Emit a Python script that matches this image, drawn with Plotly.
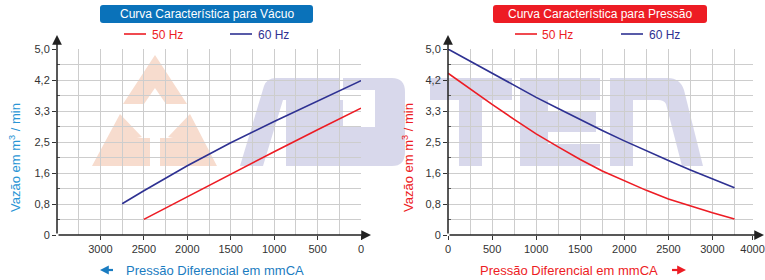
import plotly.graph_objects as go

# ---------------- data ----------------
vac_p_60 = [2750, 2500, 2000, 1500, 1000, 500, 0]
vac_q_60 = [0.84, 1.19, 1.86, 2.48, 3.05, 3.60, 4.15]
vac_p_50 = [2500, 2000, 1500, 1000, 500, 0]
vac_q_50 = [0.42, 1.03, 1.64, 2.24, 2.83, 3.41]

pre_p = [0, 250, 500, 750, 1000, 1250, 1500, 1750, 2000, 2250, 2500, 2750, 3000, 3250]
pre_q_60 = [5.0, 4.67, 4.34, 4.02, 3.70, 3.40, 3.10, 2.81, 2.53, 2.26, 2.00, 1.75, 1.51, 1.27]
pre_q_50 = [4.35, 3.92, 3.51, 3.11, 2.72, 2.37, 2.03, 1.72, 1.45, 1.20, 0.97, 0.78, 0.60, 0.43]

y_tickvals = [0, 5/6, 10/6, 15/6, 20/6, 25/6, 5]
y_ticktext = ["0", "0,8", "1,6", "2,5", "3,3", "4,2", "5,0"]
y_minor = [k * 5/12 for k in range(1, 12, 2)]

vac_tickvals = [0, 500, 1000, 1500, 2000, 2500, 3000]
vac_ticktext = ["0", "500", "1000", "1500", "2000", "2500", "3000"]
pre_tickvals = [0, 500, 1000, 1500, 2000, 2500, 3000, 3455]
pre_ticktext = ["0", "500", "1000", "1500", "2000", "2500", "3000", "4000"]
x_minor = list(range(250, 3500, 500))

RED = "#ED1C24"
NAVY = "#2E3192"
BLUE_BOX = "#0A72BA"
W, H = 765, 280
FONT = "Liberation Sans, Arial, sans-serif"

def px(x):
    return x / W

def py(y):
    return 1 - y / H

fig = go.Figure()
fig.add_trace(go.Scatter(x=vac_p_60, y=vac_q_60, mode="lines", name="60 Hz",
                         line=dict(color=NAVY, width=1.6), xaxis="x", yaxis="y", showlegend=False))
fig.add_trace(go.Scatter(x=vac_p_50, y=vac_q_50, mode="lines", name="50 Hz",
                         line=dict(color=RED, width=1.6), xaxis="x", yaxis="y", showlegend=False))
fig.add_trace(go.Scatter(x=pre_p, y=pre_q_60, mode="lines", name="60 Hz",
                         line=dict(color=NAVY, width=1.6), xaxis="x2", yaxis="y2", showlegend=False))
fig.add_trace(go.Scatter(x=pre_p, y=pre_q_50, mode="lines", name="50 Hz",
                         line=dict(color=RED, width=1.6), xaxis="x2", yaxis="y2", showlegend=False))

GRID = "#cdcdcd"
common_x = dict(ticks="outside", ticklen=4, tickwidth=1.2, tickcolor="#333", automargin=False,
                showgrid=True, gridcolor=GRID, gridwidth=1.2, zeroline=False,
                showline=False, tickfont=dict(size=11, color="#333", family=FONT),
                tickmode="array",
                minor=dict(tickmode="array", tickvals=x_minor, showgrid=True, gridcolor=GRID, gridwidth=1.2, ticks=""))
common_y = dict(range=[0, 5], tickmode="array", tickvals=y_tickvals, ticktext=y_ticktext, automargin=False,
                ticks="outside", ticklen=4, tickwidth=1.2, tickcolor="#333",
                showgrid=True, gridcolor=GRID, gridwidth=1.2, zeroline=False, showline=False,
                tickfont=dict(size=11, color="#333", family=FONT),
                minor=dict(tickmode="array", tickvals=y_minor, showgrid=True, gridcolor=GRID, gridwidth=1.2,
                           ticks="inside", ticklen=3, tickcolor="#555"))

ydom = [py(235), py(49)]
fig.update_layout(
    width=W, height=H, margin=dict(l=0, r=0, t=0, b=0, autoexpand=False),
    paper_bgcolor="white", plot_bgcolor="rgba(0,0,0,0)",
    font=dict(family=FONT, color="#333"),
    xaxis=dict(domain=[px(57), px(361)], range=[3500, 0], tickvals=vac_tickvals, ticktext=vac_ticktext,
               anchor="y", **common_x),
    yaxis=dict(domain=ydom, anchor="x", **common_y),
    xaxis2=dict(domain=[px(448), px(753)], range=[0, 3460], tickvals=pre_tickvals, ticktext=pre_ticktext,
                anchor="y2", **common_x),
    yaxis2=dict(domain=ydom, anchor="x2", **common_y),
)

# ---------------- watermark (decorative) ----------------
def path(cmds):
    out = []
    for c in cmds:
        if isinstance(c, str):
            out.append(c)
        else:
            out.append(f"{px(c[0]):.5f},{py(c[1]):.5f}")
    return " ".join(out)

ORANGE_WM = "rgba(246,214,198,0.85)"
LAV_WM = "rgba(214,214,234,0.95)"
wm = [
    (ORANGE_WM, ["M", (155, 55), "L", (187, 104), "L", (166, 104), "L", (155, 88), "L", (144, 104), "L", (123, 104), "Z"]),
    (ORANGE_WM, ["M", (92, 166), "L", (120, 114), "L", (142, 137), "L", (137, 138), "L", (150, 138), "L", (150, 166), "Z"]),
    (ORANGE_WM, ["M", (160, 166), "L", (160, 138), "L", (173, 138), "L", (168, 137), "L", (190, 114), "L", (217, 166), "Z"]),
    (LAV_WM, ["M", (240, 166), "L", (264, 86), "Q", (267, 78), (276, 78), "L", (340, 78), "L", (340, 100),
              "L", (283, 100), "L", (263, 166), "Z"]),
    (LAV_WM, ["M", (286, 100), "L", (343, 100), "L", (343, 127), "L", (375, 127), "L", (375, 166), "L", (286, 166), "Z"]),
    (LAV_WM, ["M", (343, 78), "L", (392, 78), "Q", (405, 78), (405, 92), "L", (405, 152), "Q", (405, 166), (392, 166),
              "L", (375, 166), "L", (375, 90), "L", (343, 90), "Z"]),
    (LAV_WM, ["M", (430, 78), "L", (512, 78), "L", (512, 100), "L", (482, 100), "L", (482, 166), "L", (459, 166),
              "L", (459, 100), "L", (430, 100), "Z"]),
    (LAV_WM, ["M", (520, 78), "L", (600, 78), "L", (600, 100), "L", (548, 100), "L", (548, 112), "L", (596, 112),
              "L", (596, 132), "L", (548, 132), "L", (548, 144), "L", (600, 144), "L", (600, 166), "L", (520, 166), "Z"]),
    (LAV_WM, ["M", (610, 166), "L", (610, 78), "L", (668, 78), "Q", (680, 78), (684, 90), "L", (703, 166),
              "L", (682, 166), "L", (666, 104), "Q", (664, 100), (658, 100), "L", (633, 100), "L", (633, 166), "Z"]),
]
shapes = []
for col, cmds in wm:
    shapes.append(dict(type="path", xref="paper", yref="paper", path=path(cmds),
                       fillcolor=col, line=dict(width=0), layer="below"))

# title boxes
def rbox(x0, y0, x1, y1, r, color):
    return dict(type="path", xref="paper", yref="paper", fillcolor=color, line=dict(width=0), layer="above",
                path=path(["M", (x0 + r, y0), "L", (x1 - r, y0), "Q", (x1, y0), (x1, y0 + r), "L", (x1, y1 - r),
                           "Q", (x1, y1), (x1 - r, y1), "L", (x0 + r, y1), "Q", (x0, y1), (x0, y1 - r),
                           "L", (x0, y0 + r), "Q", (x0, y0), (x0 + r, y0), "Z"]))

shapes.append(rbox(100, 5, 313, 23, 3, BLUE_BOX))
shapes.append(rbox(493, 5, 707, 23, 3, RED))

# legend lines
for (x0, x1, col) in [(124, 146, RED), (230, 252, NAVY), (515, 537, RED), (621, 643, NAVY)]:
    shapes.append(dict(type="line", xref="paper", yref="paper", x0=px(x0), x1=px(x1), y0=py(34), y1=py(34),
                       line=dict(color=col, width=1.6)))

# short arrow shafts next to the x titles
shapes.append(dict(type="line", xref="paper", yref="paper", x0=px(104), x1=px(113), y0=py(270), y1=py(270),
                   line=dict(color="#1A7CC1", width=2.2)))
shapes.append(dict(type="line", xref="paper", yref="paper", x0=px(672), x1=px(682), y0=py(270), y1=py(270),
                   line=dict(color=RED, width=2.2)))

fig.update_layout(shapes=shapes)

ann = []
def text(x, y, s, color, size=12, xanchor="center", angle=0):
    ann.append(dict(x=px(x), y=py(y), xref="paper", yref="paper", text=s, showarrow=False,
                    xanchor=xanchor, yanchor="middle", textangle=angle,
                    font=dict(family=FONT, size=size, color=color)))

text(206.5, 14, "Curva Característica para Vácuo", "white", 12)
text(600, 14, "Curva Característica para Pressão", "white", 12)
text(150, 34.5, "50 Hz", RED, 12, "left")
text(256, 34.5, "60 Hz", NAVY, 12, "left")
text(540, 34.5, "50 Hz", RED, 12, "left")
text(647, 34.5, "60 Hz", NAVY, 12, "left")
text(15, 158, "Vazão em m<sup>3</sup> / min", "#2A95D5", 13, angle=-90)
text(408, 158, "Vazão em m<sup>3</sup> / min", RED, 13, angle=-90)
text(214.5, 270, "Pressão Diferencial em mmCA", "#1A7CC1", 13)
text(569, 270, "Pressão Diferencial em mmCA", RED, 13)

def arrow(xt, yt, ax, ay, color, width, size=1.0, head=2):
    ann.append(dict(x=px(xt), y=py(yt), xref="paper", yref="paper", text="", showarrow=True,
                    ax=ax, ay=ay, axref="pixel", ayref="pixel", arrowhead=head, arrowsize=size,
                    arrowwidth=width, arrowcolor=color, standoff=0, startstandoff=0))

# axis lines with arrows
arrow(57, 35, 0, 200, "#222", 1.5, 1.3)
arrow(371, 235, -314, 0, "#222", 1.5, 1.3)
arrow(448, 35, 0, 200, "#222", 1.5, 1.3)
arrow(766, 235, -318, 0, "#222", 1.5, 1.3)
# title arrows
arrow(100, 270, 10, 0, "#1A7CC1", 2.2, 0.8)
arrow(686, 270, -10, 0, RED, 2.2, 0.8)

fig.update_layout(annotations=ann)
fig.write_html("out.html", config={"displayModeBar": False},
               post_script="document.body.style.margin='0';document.body.style.overflow='hidden';")
